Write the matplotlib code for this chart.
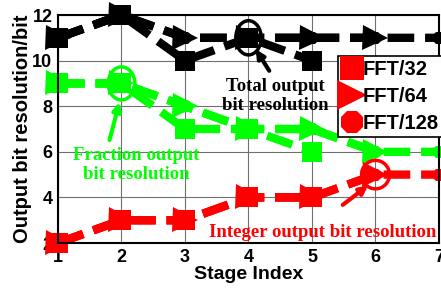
import matplotlib
matplotlib.use("Agg")
import matplotlib.pyplot as plt
from matplotlib.lines import Line2D
from matplotlib.patches import Ellipse

stages = [1, 2, 3, 4, 5, 6, 7]
total_32 = [11, 12, 10, 11, 10]
total_64 = [11, 12, 11, 11, 11, 11]
total_128 = [11, 12, 11, 11, 11, 11, 11]
frac_32 = [9, 9, 7, 7, 6]
frac_64 = [9, 9, 8, 7, 7, 6]
frac_128 = [9, 9, 8, 7, 7, 6, 6]
int_32 = [2, 3, 3, 4, 4]
int_64 = [2, 3, 3, 4, 4, 5]
int_128 = [2, 3, 3, 4, 4, 5, 5]
legend_labels = ["FFT/32", "FFT/64", "FFT/128"]

fig = plt.figure(figsize=(4.41, 2.88), dpi=100)
ax = fig.add_axes([58/441, 1-243/288, (439-58)/441, (243-15)/288])

lw = 6
dash = (3.2, 1.3)
markers = ['s', '>', '8']
msizes = [14, 18, 10]
for color, series in [('black', [total_32, total_64, total_128]),
                      ('#00ff00', [frac_32, frac_64, frac_128]),
                      ('red', [int_32, int_64, int_128])]:
    for m, s, ys in list(zip(markers, msizes, series))[::-1]:
        ax.plot(stages[:len(ys)], ys, color=color, lw=lw, dashes=dash,
                marker=m, markersize=s, markeredgewidth=0, clip_on=False)

ax.set_xlim(1, 7)
ax.set_ylim(2, 12)
ax.set_xticks(stages)
ax.set_yticks([2, 4, 6, 8, 10, 12])
ax.grid(True, color='#707070', lw=0.8)
for s in ax.spines.values():
    s.set_linewidth(1.5)
ax.tick_params(direction='in', length=0, labelsize=13, pad=4)
for lab in ax.get_xticklabels() + ax.get_yticklabels():
    lab.set_fontweight('bold')
    lab.set_family('Liberation Sans')
ax.set_xlabel("Stage Index", fontsize=14, fontweight='bold', family='Liberation Sans', labelpad=0)
ax.set_ylabel("Output bit resolution/bit", fontsize=14.5, fontweight='bold', family='Liberation Sans', labelpad=0)

# ellipses
ax.add_patch(Ellipse((2, 9), 0.42, 1.45, fill=False, ec='#00ff00', lw=2.5, zorder=5))
ax.add_patch(Ellipse((4, 11), 0.4, 1.5, fill=False, ec='black', lw=2.5, zorder=5))
ax.add_patch(Ellipse((6, 5), 0.44, 1.25, fill=False, ec='red', lw=2.5, zorder=5))

tfont = dict(family='Liberation Serif', fontweight='bold', fontsize=13.5, ha='center', va='center', linespacing=1.2)
ax.text(4.42, 8.45, "Total output\nbit resolution", color='black', **tfont)
ax.text(2.23, 5.42, "Fraction output\nbit resolution", color='#00ff00', **tfont)
ax.text(5.17, 2.45, "Integer output bit resolution", color='red', **tfont)

ap = dict(arrowstyle='-|>', lw=3, mutation_scale=12)
ax.annotate("", xy=(4.09, 10.6), xytext=(4.35, 9.45), arrowprops=dict(color='black', **ap))
ax.annotate("", xy=(1.98, 8.3), xytext=(1.8, 6.4), arrowprops=dict(color='#00ff00', **ap))
ax.annotate("", xy=(5.92, 4.6), xytext=(5.45, 3.6), arrowprops=dict(color='red', **ap))

handles = [Line2D([], [], color='red', marker=m, markersize=s + 3, lw=0, markeredgewidth=0)
           for m, s in zip(markers, [14, 18, 14])]
leg = ax.legend(handles, legend_labels, loc='upper right', bbox_to_anchor=(1.01, 0.82),
                prop=dict(family='Liberation Sans', weight='bold', size=14.5),
                handlelength=0.9, handletextpad=0.1, borderpad=0.2, labelspacing=0.4,
                fancybox=False, framealpha=1, edgecolor='black', borderaxespad=0)
leg.get_frame().set_linewidth(1.2)
leg.set_zorder(10)

fig.savefig("out.png", dpi=100)
